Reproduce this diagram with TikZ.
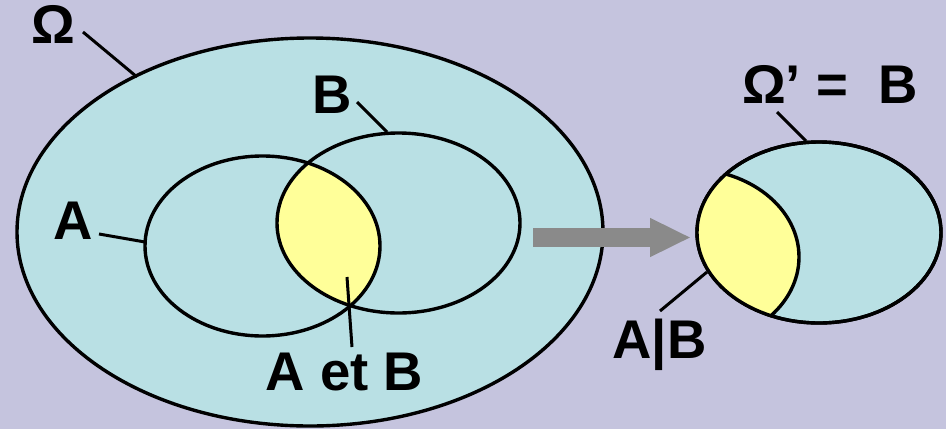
\documentclass[tikz,border=0pt]{standalone}
\usepackage{fontspec}
\setmainfont{Liberation Sans}
\usetikzlibrary{shapes.geometric,arrows.meta}
\definecolor{bgc}{RGB}{197,196,222}
\definecolor{cyanc}{RGB}{185,224,228}
\definecolor{yelc}{RGB}{255,255,153}
\definecolor{arrc}{RGB}{138,138,138}
\tikzset{
  setell/.style={ellipse,draw=black,line width=3.4pt,inner sep=0pt,outer sep=0pt},
  lbl/.style={font=\fontsize{54.5}{60}\selectfont\bfseries,inner sep=0pt,anchor=base},
  lead/.style={line width=3pt,black},
}
\begin{document}
\begin{tikzpicture}[x=1pt,y=-1pt]
\useasboundingbox (0,0) rectangle (946,429);
\fill[bgc] (0,0) rectangle (946,429);
% big universe
\node[setell,fill=cyanc,minimum width=586pt,minimum height=388pt] (omega) at (310,232) {};
% intersection A and B
\begin{scope}
  \clip (262.5,246) ellipse [x radius=117.5pt,y radius=90pt];
  \fill[yelc] (398.5,223) ellipse [x radius=121.5pt,y radius=90pt];
\end{scope}
\node[setell,minimum width=235pt,minimum height=180pt] (setA) at (262.5,246) {};
\node[setell,minimum width=243pt,minimum height=180pt] (setB) at (398.5,223) {};
% right universe
\node[setell,fill=cyanc,minimum width=244pt,minimum height=181pt] (omegap) at (819,232.5) {};
\begin{scope}
  \clip (819,232.5) ellipse [x radius=122pt,y radius=90.5pt];
  \fill[yelc,draw=black,line width=3.4pt] (689,257) ellipse [x radius=110pt,y radius=88pt];
\end{scope}
\node[setell,minimum width=244pt,minimum height=181pt] at (819,232.5) {};
% arrow
\coordinate (arrS) at (533,237.5);
\coordinate (arrE) at (691,237.5);
\draw[arrc,line width=19pt,-{Triangle[length=41pt,width=36pt]}] (arrS) -- (arrE);
% labels
\node[lbl] (tOmega) at (53.5,43) {Ω};
\node[lbl] (tB) at (332,113) {B};
\node[lbl] (tA) at (73.5,239) {A};
\node[lbl] (tAB) at (344.5,390) {A et B};
\node[lbl] (tOmegaP) at (830,103) {Ω’ =\ \ B};
\node[lbl] (tAgB) at (659.5,358) {A|B};
% leader lines
\coordinate (o1) at (83,32);   \coordinate (o2) at (137,77);
\coordinate (b1) at (357,102); \coordinate (b2) at (387,132);
\coordinate (a1) at (99,234);  \coordinate (a2) at (145,242);
\coordinate (ab1) at (347,277); \coordinate (ab2) at (352,347);
\coordinate (op1) at (777,112); \coordinate (op2) at (806,141);
\coordinate (g1) at (660,311); \coordinate (g2) at (707,272);
\draw[lead] (o1) -- (o2);
\draw[lead] (b1) -- (b2);
\draw[lead] (a1) -- (a2);
\draw[lead] (ab1) -- (ab2);
\draw[lead] (op1) -- (op2);
\draw[lead] (g1) -- (g2);
\end{tikzpicture}
\end{document}
